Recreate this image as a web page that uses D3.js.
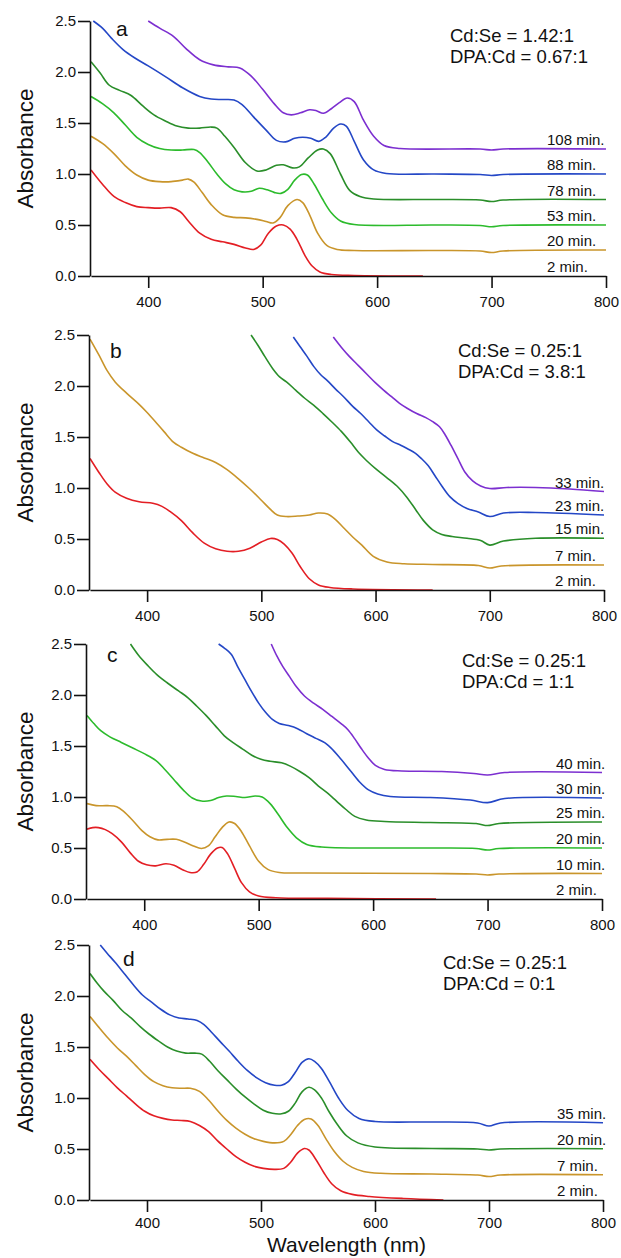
<!DOCTYPE html>
<html>
<head>
<meta charset="utf-8">
<script src="https://cdn.jsdelivr.net/npm/d3@7"></script>
<style>
  body { margin: 0; background: #fff; }
  svg text { font-family: "Liberation Sans", Arial, Helvetica, sans-serif; fill: #111; }
</style>
</head>
<body>
<div id="chart"></div>
<script>
// ---------- data: [wavelength nm, absorbance] ----------

// panel a  (Cd:Se = 1.42:1, DPA:Cd = 0.67:1)
const a2 = [[350,1.04],[360,0.90],[370,0.78],[380,0.72],[390,0.68],[400,0.67],[410,0.665],[420,0.67],[428,0.63],[435,0.54],[445,0.42],[455,0.36],[465,0.335],[475,0.31],[485,0.275],[492,0.26],[498,0.30],[505,0.42],[512,0.49],[518,0.50],[524,0.46],[530,0.36],[537,0.20],[543,0.10],[550,0.04],[560,0.015],[580,0.005],[640,0.0]];
const a20 = [[350,1.37],[360,1.30],[370,1.20],[380,1.08],[390,0.99],[400,0.94],[410,0.925],[420,0.925],[430,0.94],[435,0.95],[440,0.92],[447,0.82],[455,0.70],[465,0.60],[475,0.575],[485,0.57],[495,0.555],[503,0.535],[509,0.52],[515,0.57],[522,0.69],[530,0.75],[535,0.72],[541,0.60],[548,0.42],[556,0.30],[565,0.26],[580,0.25],[650,0.25],[690,0.245],[700,0.23],[710,0.245],[800,0.255]];
const a53 = [[350,1.76],[360,1.69],[370,1.60],[380,1.48],[390,1.36],[400,1.29],[410,1.25],[420,1.235],[430,1.235],[440,1.24],[445,1.21],[452,1.12],[460,1.0],[468,0.9],[475,0.845],[482,0.825],[490,0.83],[497,0.86],[504,0.845],[510,0.82],[516,0.81],[522,0.85],[528,0.94],[534,0.995],[539,0.99],[545,0.9],[552,0.76],[560,0.62],[568,0.54],[580,0.505],[650,0.5],[690,0.495],[700,0.483],[710,0.495],[800,0.5]];
const a78 = [[350,2.10],[358,1.99],[366,1.87],[375,1.82],[385,1.77],[395,1.67],[405,1.58],[415,1.52],[425,1.47],[435,1.45],[445,1.45],[455,1.46],[460,1.45],[467,1.37],[475,1.26],[485,1.11],[495,1.03],[503,1.04],[512,1.085],[518,1.09],[526,1.06],[532,1.07],[540,1.16],[548,1.235],[553,1.245],[559,1.20],[568,1.0],[576,0.84],[585,0.78],[597,0.755],[650,0.75],[690,0.745],[700,0.73],[710,0.745],[800,0.75]];
const a88 = [[352,2.50],[360,2.43],[368,2.33],[378,2.22],[388,2.14],[400,2.06],[415,1.955],[430,1.845],[445,1.76],[455,1.735],[465,1.73],[475,1.725],[482,1.68],[492,1.56],[503,1.43],[512,1.33],[520,1.315],[528,1.35],[535,1.36],[542,1.35],[549,1.32],[555,1.36],[562,1.45],[568,1.49],[573,1.47],[580,1.32],[588,1.14],[597,1.04],[608,1.005],[650,1.0],[690,0.995],[700,0.985],[710,0.995],[800,1.0]];
const a108 = [[400,2.50],[410,2.43],[422,2.35],[433,2.23],[445,2.12],[457,2.07],[470,2.05],[480,2.04],[490,1.96],[500,1.83],[510,1.69],[518,1.60],[525,1.58],[533,1.60],[541,1.63],[547,1.62],[553,1.595],[560,1.64],[567,1.70],[574,1.745],[580,1.71],[588,1.53],[597,1.37],[606,1.28],[620,1.25],[690,1.245],[700,1.235],[710,1.245],[800,1.245]];

// panel b  (Cd:Se = 0.25:1, DPA:Cd = 3.8:1)
const b2 = [[350,1.29],[358,1.15],[365,1.04],[372,0.96],[382,0.90],[393,0.865],[405,0.85],[413,0.82],[420,0.77],[430,0.68],[440,0.56],[450,0.46],[460,0.405],[470,0.38],[480,0.38],[490,0.41],[500,0.47],[508,0.505],[514,0.495],[520,0.45],[527,0.36],[534,0.23],[542,0.11],[550,0.05],[560,0.025],[580,0.01],[650,0.0]];
const b7 = [[350,2.46],[358,2.30],[365,2.15],[372,2.04],[382,1.93],[393,1.82],[400,1.74],[408,1.64],[415,1.55],[423,1.45],[430,1.40],[440,1.34],[450,1.295],[460,1.25],[470,1.18],[480,1.09],[490,0.99],[500,0.88],[508,0.79],[514,0.735],[522,0.72],[532,0.725],[542,0.735],[550,0.755],[558,0.745],[565,0.69],[572,0.61],[580,0.52],[588,0.44],[598,0.33],[610,0.275],[625,0.258],[650,0.25],[690,0.24],[700,0.215],[710,0.235],[800,0.245]];
const b15 = [[491,2.50],[497,2.40],[503,2.29],[510,2.17],[516,2.09],[522,2.04],[530,1.96],[538,1.88],[546,1.81],[554,1.73],[562,1.645],[570,1.555],[578,1.45],[585,1.35],[592,1.27],[600,1.19],[610,1.10],[620,1.005],[627,0.915],[635,0.79],[642,0.68],[650,0.59],[658,0.545],[667,0.525],[680,0.507],[692,0.485],[700,0.44],[712,0.48],[740,0.507],[800,0.507]];
const b23 = [[528,2.48],[534,2.385],[540,2.29],[546,2.19],[552,2.11],[558,2.05],[565,1.97],[572,1.895],[580,1.80],[587,1.73],[594,1.65],[601,1.57],[608,1.51],[615,1.455],[622,1.42],[628,1.385],[635,1.34],[640,1.29],[646,1.22],[652,1.12],[658,1.02],[665,0.915],[672,0.85],[680,0.80],[690,0.765],[700,0.72],[712,0.755],[740,0.76],[800,0.735]];
const b33 = [[563,2.48],[570,2.38],[577,2.29],[585,2.20],[592,2.12],[600,2.03],[607,1.96],[614,1.895],[621,1.83],[628,1.78],[636,1.73],[644,1.69],[650,1.65],[656,1.60],[661,1.52],[666,1.42],[672,1.29],[678,1.16],[685,1.07],[692,1.02],[700,0.995],[715,1.005],[740,1.005],[770,0.99],[800,0.965]];

// panel c  (Cd:Se = 0.25:1, DPA:Cd = 1:1)
const c2 = [[350,0.685],[355,0.70],[360,0.70],[366,0.68],[372,0.64],[380,0.56],[388,0.45],[395,0.37],[402,0.335],[410,0.325],[419,0.345],[426,0.33],[434,0.285],[440,0.26],[446,0.265],[452,0.34],[458,0.44],[464,0.50],[468,0.505],[473,0.44],[479,0.30],[485,0.16],[492,0.07],[500,0.03],[515,0.012],[560,0.006],[655,0.0]];
const c10 = [[350,0.935],[358,0.915],[368,0.915],[376,0.905],[382,0.86],[390,0.77],[398,0.67],[405,0.61],[412,0.58],[420,0.585],[428,0.585],[435,0.56],[443,0.52],[450,0.495],[456,0.52],[462,0.61],[468,0.70],[474,0.755],[479,0.74],[485,0.66],[492,0.52],[500,0.37],[508,0.29],[518,0.26],[540,0.255],[650,0.25],[690,0.245],[700,0.235],[710,0.245],[800,0.25]];
const c20 = [[350,1.80],[356,1.72],[362,1.65],[370,1.59],[380,1.535],[390,1.48],[400,1.425],[410,1.36],[418,1.27],[426,1.17],[434,1.07],[442,0.99],[450,0.96],[458,0.965],[465,0.995],[472,1.01],[480,1.005],[488,0.995],[497,1.01],[503,1.0],[510,0.935],[517,0.83],[525,0.70],[533,0.60],[542,0.535],[555,0.51],[650,0.5],[690,0.495],[700,0.48],[710,0.495],[800,0.5]];
const c25 = [[388,2.50],[395,2.39],[403,2.29],[411,2.20],[420,2.12],[430,2.04],[438,1.975],[446,1.89],[454,1.80],[462,1.70],[470,1.60],[478,1.53],[486,1.47],[494,1.41],[502,1.37],[510,1.35],[520,1.335],[528,1.30],[536,1.25],[544,1.19],[552,1.11],[560,1.04],[568,0.96],[576,0.88],[584,0.81],[594,0.775],[610,0.76],[650,0.75],[690,0.74],[700,0.72],[710,0.74],[800,0.755]];
const c30 = [[465,2.50],[470,2.46],[476,2.40],[482,2.27],[488,2.15],[494,2.03],[500,1.92],[506,1.83],[512,1.76],[518,1.72],[526,1.70],[534,1.67],[542,1.62],[550,1.575],[558,1.53],[565,1.46],[572,1.37],[580,1.26],[588,1.15],[596,1.07],[604,1.03],[615,1.005],[650,0.995],[685,0.97],[700,0.945],[715,0.985],[800,0.99]];
const c40 = [[511,2.50],[516,2.38],[521,2.28],[527,2.18],[533,2.08],[540,1.99],[548,1.92],[556,1.86],[564,1.79],[572,1.72],[578,1.66],[584,1.57],[590,1.47],[596,1.38],[602,1.31],[610,1.27],[625,1.255],[660,1.25],[688,1.23],[700,1.215],[715,1.24],[800,1.24]];

// panel d  (Cd:Se = 0.25:1, DPA:Cd = 0:1)
const d2 = [[350,1.38],[358,1.28],[366,1.19],[374,1.10],[382,1.02],[390,0.94],[398,0.87],[406,0.825],[414,0.80],[422,0.785],[430,0.78],[438,0.77],[446,0.73],[454,0.67],[462,0.58],[470,0.50],[478,0.425],[486,0.37],[494,0.33],[502,0.31],[512,0.30],[520,0.31],[526,0.37],[532,0.46],[538,0.505],[542,0.49],[548,0.40],[555,0.27],[562,0.16],[570,0.09],[580,0.055],[595,0.035],[625,0.015],[660,0.0]];
const d7 = [[350,1.80],[358,1.69],[366,1.585],[374,1.49],[382,1.41],[390,1.32],[398,1.23],[406,1.16],[414,1.12],[422,1.10],[430,1.095],[438,1.095],[446,1.065],[454,0.98],[462,0.875],[470,0.78],[478,0.705],[486,0.645],[494,0.60],[502,0.575],[512,0.56],[520,0.575],[526,0.64],[532,0.73],[538,0.79],[544,0.795],[550,0.73],[557,0.60],[564,0.48],[572,0.38],[580,0.32],[590,0.28],[605,0.262],[650,0.255],[690,0.245],[700,0.23],[710,0.245],[800,0.247]];
const d20 = [[350,2.22],[356,2.13],[362,2.05],[370,1.96],[378,1.86],[386,1.785],[394,1.70],[402,1.625],[410,1.56],[418,1.50],[426,1.46],[434,1.44],[442,1.44],[448,1.43],[455,1.36],[462,1.27],[470,1.18],[478,1.09],[486,1.01],[494,0.94],[502,0.88],[510,0.85],[518,0.845],[524,0.87],[530,0.95],[536,1.06],[542,1.105],[547,1.08],[553,1.00],[560,0.86],[567,0.74],[575,0.63],[585,0.56],[600,0.52],[650,0.505],[690,0.5],[700,0.49],[710,0.5],[800,0.503]];
const d35 = [[359,2.50],[365,2.42],[372,2.33],[380,2.22],[388,2.11],[396,2.01],[404,1.94],[412,1.87],[420,1.815],[428,1.785],[436,1.775],[444,1.76],[450,1.72],[457,1.64],[464,1.555],[472,1.46],[480,1.36],[488,1.27],[496,1.20],[504,1.15],[512,1.125],[518,1.125],[524,1.16],[530,1.25],[536,1.35],[542,1.385],[547,1.36],[553,1.29],[560,1.16],[568,1.00],[576,0.88],[586,0.80],[600,0.77],[650,0.765],[690,0.755],[700,0.725],[710,0.755],[800,0.758]];

// labels
const panelLetters = ["a", "b", "c", "d"];
const ratioCdSe = ["Cd:Se = 1.42:1", "Cd:Se = 0.25:1", "Cd:Se = 0.25:1", "Cd:Se = 0.25:1"];
const ratioDPA = ["DPA:Cd = 0.67:1", "DPA:Cd = 3.8:1", "DPA:Cd = 1:1", "DPA:Cd = 0:1"];
const timesA = ["2 min.", "20 min.", "53 min.", "78 min.", "88 min.", "108 min."];
const timesB = ["2 min.", "7 min.", "15 min.", "23 min.", "33 min."];
const timesC = ["2 min.", "10 min.", "20 min.", "25 min.", "30 min.", "40 min."];
const timesD = ["2 min.", "7 min.", "20 min.", "35 min."];
const xTicks = [400, 500, 600, 700, 800];
const yTicks = [0, 0.5, 1.0, 1.5, 2.0, 2.5];

// colours
const RED = "#e31e24", GOLD = "#c9952b", LGREEN = "#2cbb2c", DGREEN = "#2a8e2a",
      BLUE = "#2447c6", PURPLE = "#7c2fd0";

// panel layout (pixel boxes)
const panels = [
  { top: 21,  bottom: 276,  left: 91, right: 606, labelX: 547, letter: [116, 36], note: [450, 42], pad: 8,
    series: [a2, a20, a53, a78, a88, a108], times: timesA, colors: [RED, GOLD, LGREEN, DGREEN, BLUE, PURPLE] },
  { top: 335, bottom: 590,  left: 90, right: 604, labelX: 555, letter: [110, 358], note: [458, 357], pad: 8,
    series: [b2, b7, b15, b23, b33], times: timesB, colors: [RED, GOLD, DGREEN, BLUE, PURPLE] },
  { top: 644, bottom: 899,  left: 87, right: 602, labelX: 556, letter: [107, 662], note: [462, 667], pad: 8,
    series: [c2, c10, c20, c25, c30, c40], times: timesC, colors: [RED, GOLD, LGREEN, DGREEN, BLUE, PURPLE] },
  { top: 945, bottom: 1200, left: 90, right: 603, labelX: 557, letter: [123, 966], note: [443, 969], pad: 5,
    series: [d2, d7, d20, d35], times: timesD, colors: [RED, GOLD, DGREEN, BLUE] }
];

const W = 621, H = 1258;

const svg = d3.select("#chart")
  .append("svg")
  .attr("width", W)
  .attr("height", H)
  .attr("viewBox", `0 0 ${W} ${H}`);

panels.forEach((p, i) => {

  const x = d3.scaleLinear().domain([350, 800]).range([p.left, p.right]);
  const y = d3.scaleLinear().domain([0, 2.5]).range([p.bottom, p.top]);

  const g = svg.append("g");

  // clip to plot box
  const clipId = "clip" + i;
  g.append("clipPath").attr("id", clipId)
    .append("rect")
    .attr("x", p.left).attr("y", p.top - 1)
    .attr("width", p.right - p.left + 2).attr("height", p.bottom - p.top + 2);

  const line = d3.line()
    .x(d => x(d[0]))
    .y(d => y(d[1]))
    .curve(d3.curveCatmullRom.alpha(0.5));

  g.append("g").attr("clip-path", `url(#${clipId})`)
    .selectAll("path")
    .data(p.series)
    .enter()
    .append("path")
    .attr("d", line)
    .attr("fill", "none")
    .attr("stroke", (d, k) => p.colors[k])
    .attr("stroke-width", 1.6)
    .attr("stroke-linejoin", "round");

  // axes
  const xAxis = g.append("g")
    .attr("transform", `translate(0,${p.bottom})`)
    .call(d3.axisBottom(x).tickValues(xTicks).tickSize(12).tickSizeOuter(0).tickPadding(p.pad)
      .tickFormat(d3.format("d")));

  const yAxis = g.append("g")
    .attr("transform", `translate(${p.left - 1},0)`)
    .call(d3.axisLeft(y).tickValues(yTicks).tickSize(12).tickSizeOuter(0).tickPadding(2)
      .tickFormat(d3.format(".1f")));

  [xAxis, yAxis].forEach(ax => {
    ax.select(".domain").attr("stroke", "#111").attr("stroke-width", 1.6);
    ax.selectAll(".tick line").attr("stroke", "#111").attr("stroke-width", 1.6);
    ax.selectAll(".tick text")
      .style("font-size", "15px")
      .attr("fill", "#111");
  });

  // Absorbance label
  g.append("text")
    .attr("transform", `translate(33,${(p.top + p.bottom) / 2}) rotate(-90)`)
    .attr("text-anchor", "middle")
    .style("font-size", "22.5px")
    .text("Absorbance");

  // panel letter
  g.append("text")
    .attr("x", p.letter[0]).attr("y", p.letter[1])
    .style("font-size", "21px")
    .text(panelLetters[i]);

  // composition note
  g.append("text")
    .attr("x", p.note[0]).attr("y", p.note[1])
    .style("font-size", "18.5px")
    .text(ratioCdSe[i]);
  g.append("text")
    .attr("x", p.note[0]).attr("y", p.note[1] + 21)
    .style("font-size", "18.5px")
    .text(ratioDPA[i]);

  // time labels, just above the flat tail of each curve
  g.selectAll(".time")
    .data(p.series)
    .enter()
    .append("text")
    .attr("class", "time")
    .attr("x", p.labelX)
    .attr("y", d => y(d[d.length - 1][1]) - 4)
    .style("font-size", "15px")
    .text((d, k) => p.times[k]);
});

// bottom axis title
const last = panels[panels.length - 1];
svg.append("text")
  .attr("x", (last.left + last.right) / 2)
  .attr("y", 1252)
  .attr("text-anchor", "middle")
  .style("font-size", "21px")
  .text("Wavelength (nm)");
</script>
</body>
</html>
